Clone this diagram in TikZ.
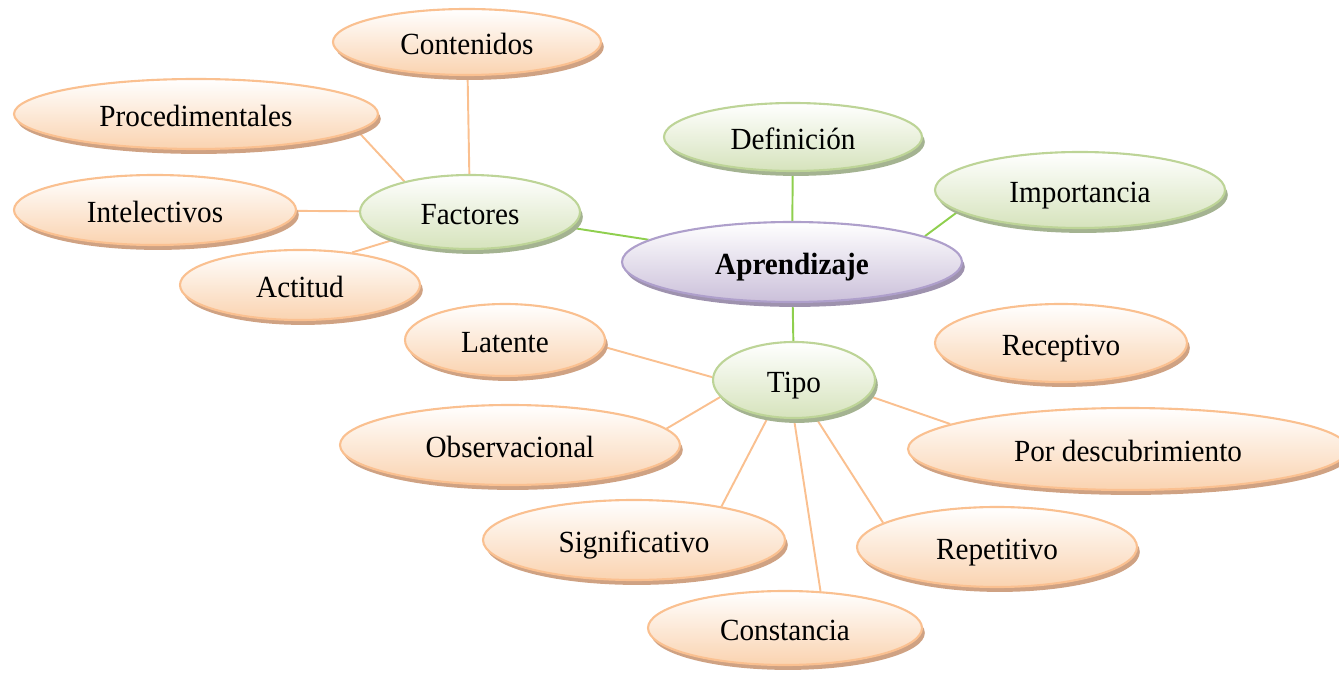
\documentclass[tikz,border=0pt]{standalone}
\usepackage{fontspec}
\setmainfont[FakeStretch=0.95]{Liberation Serif}
\usepackage{tikz}
\usetikzlibrary{shapes.geometric, shadows, backgrounds}
\usepackage{xcolor}

\definecolor{orline}{HTML}{FAC090}
\definecolor{orfill}{HTML}{FAD3B0}
\definecolor{orshad}{HTML}{CFA283}
\definecolor{grline}{HTML}{BDD497}
\definecolor{grfill}{HTML}{D6E3BC}
\definecolor{grshad}{HTML}{A4B391}
\definecolor{grlink}{HTML}{8FCF4E}
\definecolor{puline}{HTML}{AE9FCB}
\definecolor{pufill}{HTML}{CBC0DA}
\definecolor{pushad}{HTML}{9E92AE}

\begin{document}
\begin{tikzpicture}[x=0.02cm, y=-0.02cm,
    font=\fontsize{17.5}{21}\selectfont,
    sz/.style 2 args={minimum width=#1*0.02cm, minimum height=#2*0.02cm},
    bubble/.style={ellipse, inner sep=0pt, line width=1.2pt,
        text height=14pt, text depth=-3.5pt,
        drop shadow={shadow xshift=1.6pt, shadow yshift=-2.8pt, opacity=1, fill=#1}},
    orbox/.style={bubble=orshad, draw=orline, top color=white, bottom color=orfill},
    grbox/.style={bubble=grshad, draw=grline, top color=white, bottom color=grfill},
    pubox/.style={bubble=pushad, draw=puline, top color=white, bottom color=pufill},
    orlink/.style={draw=orline, line width=1.1pt},
    grlink/.style={draw=grlink, line width=1.1pt}]

    \clip (0,0) rectangle (1339,675);

    % centre
    \node[pubox, sz={340}{80}] (apren) at (792,262) {\textbf{Aprendizaje}};
    \node[grbox, sz={258}{68}] (defin) at (793,137) {Definición};
    \node[grbox, sz={290}{76}] (impor) at (1080,190) {Importancia};
    \node[grbox, sz={220}{74}] (fact) at (470,212) {Factores};
    \node[grbox, sz={162}{76}] (tipo) at (794,380) {Tipo};

    % factores
    \node[orbox, sz={268}{66}] (conte) at (467,42) {Contenidos};
    \node[orbox, sz={364}{70}] (proce) at (196,114) {Procedimentales};
    \node[orbox, sz={282}{70}] (intel) at (155,210) {Intelectivos};
    \node[orbox, sz={240}{70}] (actit) at (300,285) {Actitud};

    % tipos
    \node[orbox, sz={200}{72}] (laten) at (505,340) {Latente};
    \node[orbox, sz={340}{80}] (obser) at (510,445) {Observacional};
    \node[orbox, sz={302}{80}] (signi) at (634,540) {Significativo};
    \node[orbox, sz={274}{74}] (const) at (785,628) {Constancia};
    \node[orbox, sz={280}{80}] (repet) at (997,547) {Repetitivo};
    \node[orbox, sz={440}{82}] (porde) at (1128,449) {Por descubrimiento};
    \node[orbox, sz={252}{78}] (recep) at (1061,343) {Receptivo};

    \begin{scope}[on background layer]
        \draw[grlink] (fact) -- (apren);
        \draw[grlink] (defin) -- (apren);
        \draw[grlink] (impor.190) -- (apren.11);
        \draw[grlink] (apren) -- (tipo);

        \draw[orlink] (conte) -- (fact);
        \draw[orlink] (proce.-6) -- (fact.155);
        \draw[orlink] (intel) -- (fact);
        \draw[orlink] (actit.32) -- (fact.200);

        \draw[orlink] (laten.-4) -- (tipo.178);
        \draw[orlink] (obser.6) -- (tipo.193);
        \draw[orlink] (signi.21) -- (tipo.235);
        \draw[orlink] (const.46) -- (tipo.south);
        \draw[orlink] (repet.168) -- (tipo.-60);
        \draw[orlink] (porde.172) -- (tipo.-12);
    \end{scope}
\end{tikzpicture}
\end{document}
